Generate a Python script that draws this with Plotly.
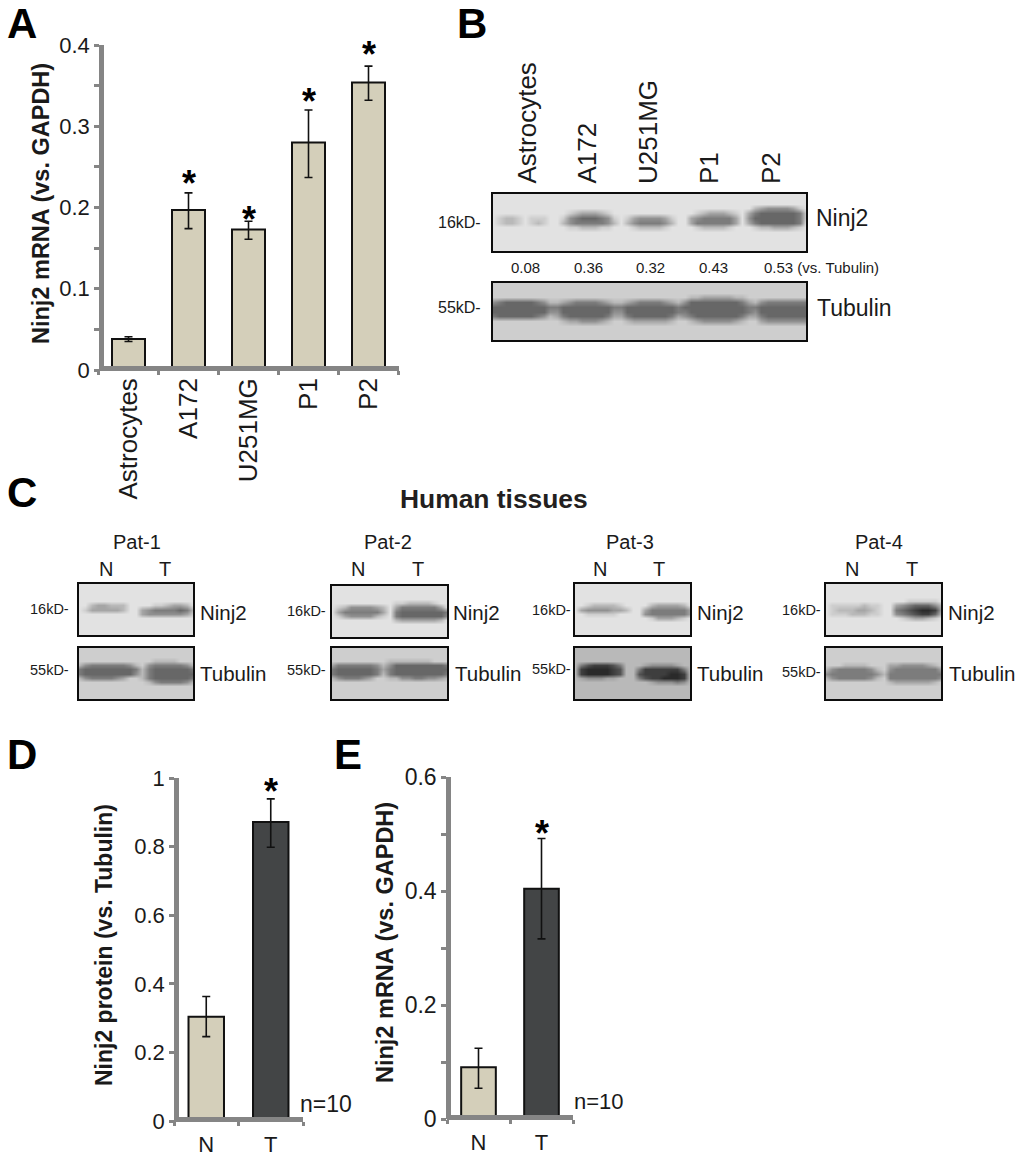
import plotly.graph_objects as go

W, H = 1020, 1157
FONT = "Liberation Sans"
INK = "#1a1a1a"
GREY = "#858585"
BEIGE = "#d4cfba"
DARK = "#434546"

# ---------- bar chart values ----------
a_labels = ["Astrocytes", "A172", "U251MG", "P1", "P2"]
a_values = [0.038, 0.197, 0.173, 0.280, 0.354]
a_upper = [0.003, 0.021, 0.010, 0.040, 0.020]
a_lower = [0.003, 0.023, 0.012, 0.043, 0.022]
a_star_labels = ["A172", "U251MG", "P1", "P2"]
a_star_y = [0.236, 0.192, 0.337, 0.395]

d_labels = ["N", "T"]
d_values = [0.304, 0.872]
d_upper = [0.059, 0.067]
d_lower = [0.058, 0.074]
d_star_y = [0.976]

e_labels = ["N", "T"]
e_values = [0.091, 0.404]
e_upper = [0.033, 0.088]
e_lower = [0.037, 0.088]
e_star_y = [0.509]

# ---------- blot densities, 0 = pale, 9 = dark ----------
# only the rows that hold a band are listed; the other rows are plain background
b_ninj2 = [
    "00000000000 000000000 0000000000 0000000000 0234444310",
    "00000000000 012333210 0000000000 0012333210 3566666651",
    "01221011100 145666541 0134444310 0345555530 4666666651",
    "01221012100 245555542 0245555420 0355555530 3566666650",
    "00000000000 011222110 0012222100 0012222100 0122333210",
]
b_tubulin = [
    "1111111111 1111111111 1111111111 12233333221 111111111",
    "4566666542 2345555432 2345555432 46666666653 245555555",
    "6666666665 5666666665 5666666665 66666666665 566666666",
    "6666666664 4666666664 4666666665 56666666665 466666666",
    "5666666542 3566666653 3566666653 45666666653 356666666",
    "1111111111 1233444321 1233333321 12344444321 134444444",
]
p1_ninj2 = ["0000000000000000000", "0023322200001123320", "0133333200345555652",
            "0000000000344444431"]
p1_tubulin = ["1111111111112222111", "2455555542145555542", "5666666665256666665",
              "5666666664256666666", "2455554311256666665", "1111111111124555542"]
p2_ninj2 = ["0000000000112222100", "0124444320355555530", "0355555530566666665",
            "0134444210566666664", "0000000000233333320"]
p2_tubulin = ["1111111112222222111", "3555555424666666665", "5666666535666666666",
              "5666666525666666665", "2455543112244554432"]
p3_ninj2 = ["0012222100002333320", "0344443320035555553", "0011111000045555553",
            "0000000000001333210"]
p3_tubulin = ["2578887522234444322", "2899998722588888852", "2899998722788889982",
              "2344433222578899982", "2222222222223444542"]
p4_ninj2 = ["0000000000000111110", "0111112110034566642", "0122233210056789983",
            "0111222110045678862", "0000000000001233210"]
p4_tubulin = ["1112222111334444321", "2455555421455555553", "4555555542555555555",
              "2455555421555555554", "1111111111233333321"]

b_lanes = ["Astrocytes", "A172", "U251MG", "P1", "P2"]
b_ratios = ["0.08", "0.36", "0.32", "0.43"]
b_last_ratio = "0.53 (vs. Tubulin)"
patients = ["Pat-1", "Pat-2", "Pat-3", "Pat-4"]


def px(x):
    return x / W


def py(y):
    return 1 - y / H


fig = go.Figure()
layout = {}
annots = []


def note(text, x, y, size, bold=False, xa="center", ya="middle", angle=0, color=INK):
    annots.append(dict(
        text=f"<b>{text}</b>" if bold else text,
        x=px(x), y=py(y), xref="paper", yref="paper",
        xanchor=xa, yanchor=ya, textangle=angle, showarrow=False,
        font=dict(family=FONT, size=size, color=color),
    ))


axis_no = [0]


def new_axes():
    axis_no[0] += 1
    n = axis_no[0]
    return ("x" if n == 1 else f"x{n}", "y" if n == 1 else f"y{n}",
            "xaxis" if n == 1 else f"xaxis{n}", "yaxis" if n == 1 else f"yaxis{n}")


def bar_panel(labels, values, upper, lower, colors, x0, x1, ytop, ybot, xline_y, yline_x,
              yrange, ticks, ticktext, minor, ticksize, xsize, standoff, star_x, star_y, star_size=36, width=0.55):
    xr, yr, xk, yk = new_axes()
    fig.add_trace(go.Bar(
        x=labels, y=values, width=width, xaxis=xr, yaxis=yr,
        marker=dict(color=colors, line=dict(color="#111111", width=2)),
        error_y=dict(type="data", symmetric=False, array=upper, arrayminus=lower,
                     color="#111111", thickness=1.6, width=4),
        showlegend=False, hoverinfo="skip",
    ))
    layout[xk] = dict(
        domain=[px(x0), px(x1)], anchor="free", position=py(xline_y),
        type="category", categoryorder="array", categoryarray=labels,
        range=[-0.5, len(labels) - 0.5], tickson="boundaries",
        showline=True, linecolor=GREY, linewidth=4.5, ticks="outside", ticklen=4,
        tickwidth=3, tickcolor=GREY, showgrid=False, zeroline=False, automargin=False,
        tickangle=-90 if len(labels) > 2 else 0, ticklabelstandoff=standoff,
        tickfont=dict(family=FONT, size=xsize, color=INK),
    )
    ymin = dict(ticks="outside", ticklen=5, tickwidth=3, tickcolor=GREY, tickvals=minor) if minor else None
    layout[yk] = dict(
        domain=[py(ybot), py(ytop)], anchor="free", position=px(yline_x), range=yrange,
        tickvals=ticks, ticktext=ticktext, showline=True, linecolor=GREY, linewidth=4.5,
        ticks="outside", ticklen=5, tickwidth=3, tickcolor=GREY, showgrid=False, automargin=False,
        zeroline=False, tickfont=dict(family=FONT, size=ticksize, color=INK),
    )
    if ymin:
        layout[yk]["minor"] = ymin
    for sx, sy in zip(star_x, star_y):
        annots.append(dict(text="<b>*</b>", x=sx, y=sy, xref=xr, yref=yr, showarrow=False,
                           xanchor="center", yanchor="middle", yshift=-5,
                           font=dict(family=FONT, size=star_size, color="#000000")))


def blot(rows, first_row, bg, x0, x1, y0, y1, total_rows=13):
    xr, yr, xk, yk = new_axes()
    typed = [[int(c) for c in r.replace(" ", "")] for r in rows]
    ncol = len(typed[0])
    z = [[bg] * ncol for _ in range(total_rows)]
    for i, row in enumerate(typed):
        z[first_row + i] = row
    fig.add_trace(go.Heatmap(
        z=z, x=list(range(ncol)), y=list(range(total_rows)), xaxis=xr, yaxis=yr,
        zmin=0, zmax=9, zsmooth="best", showscale=False, hoverinfo="skip",
        colorscale=[[0, "#e2e2e2"], [1, "#2a2a2a"]],
    ))
    base = dict(showticklabels=False, ticks="", showgrid=False, zeroline=False, automargin=False,
                showline=True, mirror=True, linecolor="#0d0d0d", linewidth=2)
    layout[xk] = dict(domain=[px(x0), px(x1)], anchor=yr, range=[0, ncol - 1], **base)
    layout[yk] = dict(domain=[py(y1), py(y0)], anchor=xr, range=[total_rows - 1, 0], **base)


# ---------- panel A ----------
bar_panel(a_labels, a_values, a_upper, a_lower, BEIGE, 98.5, 398.5, 45, 370, 368, 101,
          [0, 0.4], [0, 0.1, 0.2, 0.3, 0.4], ["0", "0.1", "0.2", "0.3", "0.4"],
          [0.05, 0.15, 0.25, 0.35], 22, 26, -3, a_star_labels, a_star_y)
note("Ninj2 mRNA (vs. GAPDH)", 41, 204, 23.5, bold=True, angle=-90)

# ---------- panel D ----------
bar_panel(d_labels, d_values, d_upper, d_lower, [BEIGE, DARK], 174, 303, 778, 1121, 1119, 176,
          [0, 1], [0, 0.2, 0.4, 0.6, 0.8, 1], ["0", "0.2", "0.4", "0.6", "0.8", "1"],
          None, 22, 22, 4, ["T"], d_star_y)
note("Ninj2 protein (vs. Tubulin)", 104, 945, 23, bold=True, angle=-90)
note("n=10", 298, 1104, 23, xa="left")

# ---------- panel E ----------
bar_panel(e_labels, e_values, e_upper, e_lower, [BEIGE, DARK], 447, 573, 777, 1119, 1117, 448,
          [0, 0.6], [0, 0.2, 0.4, 0.6], ["0", "0.2", "0.4", "0.6"],
          [0.1, 0.3, 0.5], 23, 22, 4, ["T"], e_star_y)
note("Ninj2 mRNA (vs. GAPDH)", 385, 943, 23.5, bold=True, angle=-90)
note("n=10", 572, 1101, 22, xa="left")

# ---------- panel B ----------
blot(b_ninj2, 3, 0, 493, 806, 194, 251)
blot(b_tubulin, 3, 1, 493, 806, 283, 340)
for lab, x in zip(b_lanes, [527, 587, 648, 709, 771]):
    note(lab, x, 186, 26, ya="bottom", angle=-90)
for lab, x in zip(b_ratios, [525, 588, 650, 713]):
    note(lab, x, 268, 15)
note(b_last_ratio, 762, 268, 15, xa="left")
note("Ninj2", 814, 218, 23, xa="left")
note("Tubulin", 815, 308, 23, xa="left")
note("16kD-", 483, 222, 16, xa="right")
note("55kD-", 483, 308, 16, xa="right")

# ---------- panel C ----------
note("Human tissues", 494, 499, 26.4, bold=True, color="#231f20")
blots_c = [
    (p1_ninj2, 4, p1_tubulin, 3, 1, 79, 193, 584, 635),
    (p2_ninj2, 4, p2_tubulin, 3, 1, 332, 447, 586, 637),
    (p3_ninj2, 5, p3_tubulin, 4, 2, 575, 690, 584, 635),
    (p4_ninj2, 4, p4_tubulin, 4, 1, 826, 941, 584, 635),
]
for (nin, nr, tub, tr, tbg, x0, x1, y0, y1) in blots_c:
    blot(nin, nr, 0, x0, x1, y0, y1)
    blot(tub, tr, tbg, x0, x1, 648, 699)
pat_x = [137, 388, 630, 879]
n_x = [106, 358, 600, 852]
t_x = [165, 418, 659, 912]
marker_right = [71, 328, 573, 823]
marker16_y = [609, 611, 610, 610]
marker55_y = [670, 670, 669, 672]
ninj_x = [198, 451, 695, 946]
tub_x = [198, 453, 695, 947]
for i, name in enumerate(patients):
    note(name, pat_x[i], 542, 20)
    note("N", n_x[i], 569, 20)
    note("T", t_x[i], 569, 20)
    note("16kD-", marker_right[i], marker16_y[i], 14.5, xa="right")
    note("55kD-", marker_right[i], marker55_y[i], 14.5, xa="right")
    note("Ninj2", ninj_x[i], 612, 20.5, xa="left")
    note("Tubulin", tub_x[i], 673, 20.5, xa="left")

# ---------- panel letters ----------
for letter, x, y in [("A", 22, 23), ("B", 472, 23), ("C", 22, 492), ("D", 22, 754), ("E", 348, 754)]:
    note(letter, x, y, 42, bold=True, color="#000000")

fig.update_layout(
    width=W, height=H, margin=dict(l=0, r=0, t=0, b=0, pad=0), autosize=False,
    paper_bgcolor="white", plot_bgcolor="rgba(0,0,0,0)",
    showlegend=False, bargap=0.45, annotations=annots, **layout,
)
fig.write_html("out.html", config={"displayModeBar": False}, post_script="document.body.style.margin='0';")
